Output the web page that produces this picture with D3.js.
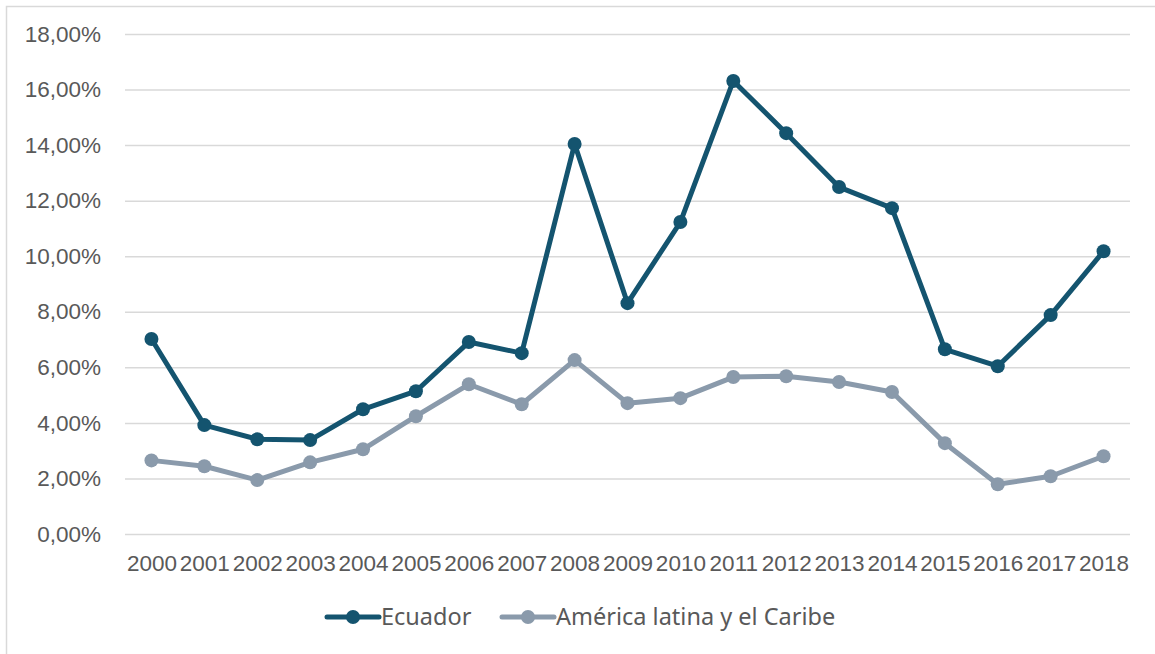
<!DOCTYPE html>
<html>
<head>
<meta charset="utf-8">
<script src="https://cdn.jsdelivr.net/npm/d3@7"></script>
<style>
  body { margin: 0; background: #fff; }
  svg { display: block; font-family: "Noto Sans", "Open Sans", sans-serif; }
</style>
</head>
<body>
<div id="vis"></div>
<script>
// years on the x axis
var years = ["2000","2001","2002","2003","2004","2005","2006","2007","2008","2009",
             "2010","2011","2012","2013","2014","2015","2016","2017","2018"];

// values in percent
var ecuador = [7.02, 3.92, 3.41, 3.38, 4.49, 5.14, 6.91, 6.51, 14.04, 8.31,
               11.23, 16.31, 14.43, 12.49, 11.73, 6.65, 6.04, 7.88, 10.18];
var latam = [2.65, 2.44, 1.94, 2.58, 3.05, 4.24, 5.39, 4.67, 6.26, 4.71,
             4.89, 5.65, 5.68, 5.47, 5.11, 3.27, 1.79, 2.08, 2.80];

var seriesNames = ["Ecuador", "América latina y el Caribe"];
var yTicks = [0, 2, 4, 6, 8, 10, 12, 14, 16, 18];

// constants for size and plot area
var width = 1155;
var height = 654;
var margin = { top: 34, left: 125, bottom: 120, right: 25 };
var colors = ["#14546f", "#8a9aab"];
var textColor = "#595959";
var fontSize = "22.5px";

var svg = d3.select("#vis").append("svg")
  .attr("width", width)
  .attr("height", height);

// light frame round the chart
svg.append("rect")
  .attr("x", 6.5).attr("y", 6.5)
  .attr("width", width).attr("height", height)
  .attr("fill", "none")
  .attr("stroke", "#d9d9d9")
  .attr("stroke-width", 1.5);

var x = d3.scalePoint()
  .domain(years)
  .range([margin.left, width - margin.right])
  .padding(0.5);

var y = d3.scaleLinear()
  .domain([0, 18])
  .range([height - margin.bottom, margin.top]);

// horizontal gridlines + y labels
var yAxis = d3.axisLeft(y)
  .tickValues(yTicks)
  .tickSize(-(width - margin.right - margin.left))
  .tickPadding(24)
  .tickFormat(function (d) { return d.toFixed(2).replace(".", ",") + "%"; });

var gy = svg.append("g")
  .attr("transform", "translate(" + margin.left + ",0)")
  .call(yAxis);
gy.select(".domain").remove();
gy.selectAll(".tick line").attr("stroke", "#d9d9d9").attr("stroke-width", 1.5);
gy.selectAll(".tick text")
  .attr("fill", textColor)
  .style("font-size", fontSize);

// x labels
var xAxis = d3.axisBottom(x).tickSize(0).tickPadding(21);
var gx = svg.append("g")
  .attr("transform", "translate(0," + y(0) + ")")
  .call(xAxis);
gx.select(".domain").remove();
gx.selectAll(".tick text")
  .attr("fill", textColor)
  .style("font-size", fontSize);

var line = d3.line()
  .x(function (d, i) { return x(years[i]); })
  .y(function (d) { return y(d); });

[ecuador, latam].forEach(function (data, k) {
  var g = svg.append("g");
  g.append("path")
    .datum(data)
    .attr("d", line)
    .attr("fill", "none")
    .attr("stroke", colors[k])
    .attr("stroke-width", 5)
    .attr("stroke-linejoin", "round");
  g.selectAll("circle")
    .data(data)
    .enter()
    .append("circle")
    .attr("cx", function (d, i) { return x(years[i]); })
    .attr("cy", function (d) { return y(d); })
    .attr("r", 7)
    .attr("fill", colors[k]);
});

// legend
var legendX = [327, 502];
var legendY = 617;
seriesNames.forEach(function (name, k) {
  var lg = svg.append("g").attr("transform", "translate(" + legendX[k] + "," + legendY + ")");
  lg.append("line")
    .attr("x1", 0).attr("x2", 52)
    .attr("stroke", colors[k])
    .attr("stroke-width", 5)
    .attr("stroke-linecap", "round");
  lg.append("circle")
    .attr("cx", 26).attr("r", 7)
    .attr("fill", colors[k]);
  lg.append("text")
    .attr("x", 54).attr("y", 8)
    .attr("fill", textColor)
    .style("font-size", "23.5px")
    .text(name);
});
</script>
</body>
</html>
